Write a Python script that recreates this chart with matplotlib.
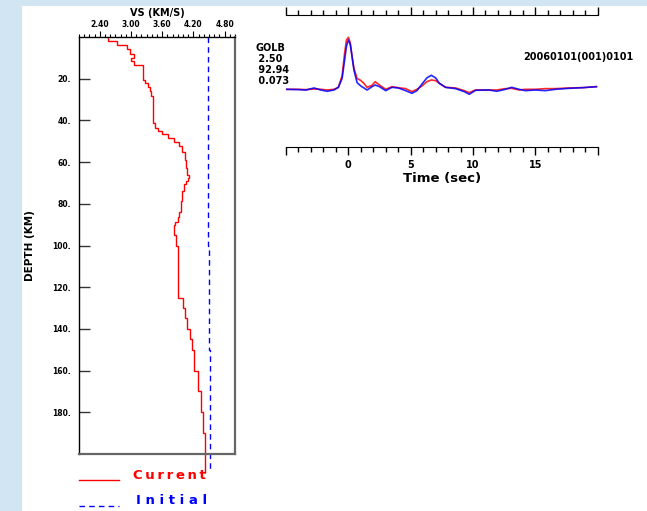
import numpy as np
import matplotlib
matplotlib.use("Agg")
from matplotlib import pyplot as plt
from matplotlib.patches import Rectangle
from matplotlib.ticker import MultipleLocator, FixedLocator

plt.rcParams["font.family"] = ["DejaVu Sans"]
plt.rcParams["font.weight"] = "bold"

# velocity model (layer tops in km, vs in km/s)
cur_top = [0, 1.8, 3.7, 5.8, 8.2, 10.1, 11.7, 13.3, 20.5, 22, 24, 26, 28.5, 35.7,
           38.8, 41.4, 43.7, 45.3, 46.5, 48.6, 50.5, 52.5, 55, 59, 60.6, 63, 66,
           67.5, 69, 70.7, 73.9, 78.7, 83.8, 86.2, 88.6, 90.2, 95, 100, 125, 130,
           134.7, 140, 145, 150, 160, 170, 180, 190]
cur_vs = [2.55, 2.74, 2.92, 2.98, 3.06, 3.00, 3.06, 3.24, 3.27, 3.32, 3.36, 3.39,
          3.42, 3.43, 3.42, 3.46, 3.51, 3.60, 3.72, 3.83, 3.92, 3.99, 4.03, 4.05,
          4.05, 4.08, 4.115, 4.09, 4.06, 4.01, 3.975, 3.96, 3.93, 3.90, 3.85, 3.83,
          3.865, 3.91, 4.00, 4.03, 4.07, 4.13, 4.18, 4.21, 4.28, 4.34, 4.38, 4.43]
cur_bottom = 209

ini_top = [0, 100, 150]
ini_vs = [4.475, 4.495, 4.515]
ini_bottom = 207

vs_ticks = [2.40, 3.00, 3.60, 4.20, 4.80]
depth_ticks = [20, 40, 60, 80, 100, 120, 140, 160, 180]

# waveform fit
t = [-5, -4, -3.4, -2.75, -2.2, -1.7, -1.15, -0.8, -0.5, -0.3, -0.15, 0, 0.15, 0.3,
     0.45, 0.7, 1.0, 1.25, 1.5, 1.9, 2.15, 2.5, 3.0, 3.5, 4.0, 4.6, 5.1, 5.5, 5.9,
     6.3, 6.65, 7.0, 7.3, 7.8, 8.6, 9.3, 9.7, 10.2, 11.3, 11.9, 12.6, 13.1, 13.7,
     14.2, 15.0, 15.8, 16.6, 17.7, 18.8, 19.9]
obs = [0, 0, -0.006, 0.006, 0, -0.013, 0, 0.038, 0.26, 0.69, 0.95, 1.0, 0.90, 0.63,
       0.40, 0.21, 0.17, 0.115, 0.038, 0.077, 0.147, 0.083, 0, 0.051, 0.032, 0.013,
       -0.045, 0, 0.064, 0.147, 0.18, 0.167, 0.115, 0.038, 0.026, -0.026, -0.064,
       -0.013, -0.013, -0.013, 0.013, 0.019, -0.013, 0, 0, 0.013, 0.013, 0.026,
       0.032, 0.051]
syn = [0, -0.006, -0.013, 0.026, -0.013, -0.038, -0.013, 0.038, 0.21, 0.56, 0.83,
       0.95, 0.87, 0.63, 0.37, 0.13, 0.064, 0.026, -0.013, 0.051, 0.083, 0.051,
       -0.026, 0.038, 0.026, -0.026, -0.077, -0.026, 0.10, 0.22, 0.27, 0.22, 0.115,
       0.038, 0.013, -0.045, -0.096, -0.019, -0.013, -0.038, 0, 0.038, 0, -0.026,
       -0.013, -0.026, 0, 0.019, 0.032, 0.051]
station = ["GOLB", " 2.50", " 92.94", " 0.073"]
event_id = "20060101(001)0101"

W, H = 647, 511
fig = plt.figure(figsize=(W / 100, H / 100), dpi=100)
fig.patch.set_facecolor("#d2e5f3")
fig.patches.append(Rectangle((22 / W, 0), 1 - 22 / W, 1 - 6 / H, transform=fig.transFigure,
                             facecolor="white", edgecolor="none", zorder=-1))

# ---- velocity model panel ----
ax = fig.add_axes([79 / W, 1 - 454 / H, 156 / W, 417 / H])
ax.set_xlim(2.0, 5.0)
ax.set_ylim(200, 0)
ax.stairs(cur_vs, cur_top + [cur_bottom], orientation="horizontal", baseline=None,
          color="red", lw=1.0, clip_on=False)
ax.stairs(ini_vs, ini_top + [ini_bottom], orientation="horizontal", baseline=None,
          color="blue", lw=1.0, ls=(0, (4, 3)), clip_on=False)

ax.xaxis.tick_top()
ax.xaxis.set_label_position("top")
ax.xaxis.set_major_locator(FixedLocator(vs_ticks))
ax.xaxis.set_minor_locator(MultipleLocator(0.1))
ax.set_xticklabels(["%.2f" % v for v in vs_ticks])
ax.tick_params(axis="x", which="major", direction="out", length=4, width=0.8,
               labelsize=5.5, pad=2)
ax.tick_params(axis="x", which="minor", direction="out", length=2.5, width=0.8)
ax.set_xlabel("VS (KM/S)", fontsize=7, fontweight="bold", labelpad=3)

ax.set_yticks(depth_ticks)
ax.set_yticklabels(["%d." % d for d in depth_ticks])
ax.tick_params(axis="y", direction="in", length=8, width=1.0, color="#333333",
               labelsize=5.5, pad=6)
ax.set_ylabel("DEPTH (KM)", fontsize=7.5, fontweight="bold", labelpad=12)

ax.spines["left"].set_linewidth(1.0)
ax.spines["top"].set_linewidth(1.0)
for s in ["right", "bottom"]:
    ax.spines[s].set_color("#666666")
    ax.spines[s].set_linewidth(1.6)

# legend
fig.add_artist(plt.Line2D([79 / W, 119 / W], [1 - 480 / H] * 2, color="red", lw=1.0))
fig.add_artist(plt.Line2D([79 / W, 119 / W], [1 - 506 / H] * 2, color="blue", lw=1.0,
                          ls=(0, (4, 3))))
fig.text(133 / W, 1 - 475 / H, "\u2009".join("Current"), color="red", fontsize=9.5,
         fontweight="bold", va="center")
fig.text(136 / W, 1 - 500 / H, " ".join("Initial"), color="blue", fontsize=9.5,
         fontweight="bold", va="center")

# ---- waveform panel ----
bx = fig.add_axes([286 / W, 1 - 147 / H, 311.7 / W, 132 / H])
bx.set_xlim(-5, 20)
bx.set_ylim(-1.11, 1.43)
bx.plot(t, obs, color="red", lw=1.2, alpha=0.85)
bx.plot(t, syn, color="blue", lw=1.2, alpha=0.85)
for s in ["left", "right"]:
    bx.spines[s].set_visible(False)
bx.set_yticks([])
bx.xaxis.set_major_locator(MultipleLocator(5))
bx.xaxis.set_minor_locator(MultipleLocator(1))
bx.tick_params(axis="x", which="major", direction="out", length=6, width=1.0,
               top=True, bottom=True, labelsize=7, pad=3)
bx.tick_params(axis="x", which="minor", direction="out", length=3.5, width=1.0,
               top=True, bottom=True)
bx.set_xticks([-5, 0, 5, 10, 15, 20])
bx.set_xticklabels(["", "0", "5", "10", "15", ""])
bx.set_xlabel("Time (sec)", fontsize=9.5, fontweight="bold", labelpad=2)

ys = [48, 59, 70, 81]
for s, y in zip(station, ys):
    fig.text(255 / W, 1 - y / H, s, fontsize=7, fontweight="bold", va="center")
fig.text(523 / W, 1 - 57 / H, event_id, fontsize=7, fontweight="bold", va="center")

fig.savefig("out.png", dpi=100)
